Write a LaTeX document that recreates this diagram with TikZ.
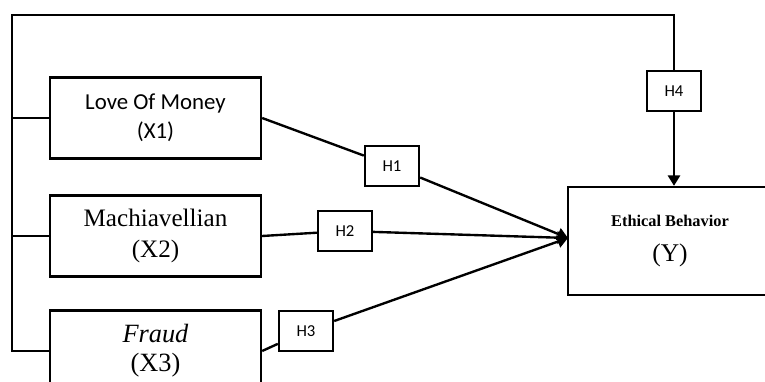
\documentclass[tikz,border=0pt]{standalone}
\usepackage{fontspec}
\setmainfont{Liberation Serif}
\newfontfamily\carlito{Carlito}
\usetikzlibrary{arrows.meta}
\usetikzlibrary{positioning}

\begin{document}
\begin{tikzpicture}
	[x=0.02cm,y=-0.02cm,line width=1.35pt,
	varbox/.style={draw,rectangle,minimum width=4.22cm,minimum height=1.62cm,inner sep=0pt,align=center},
	hbox/.style={draw,rectangle,minimum width=1.08cm,minimum height=0.79cm,inner sep=0pt,font=\carlito\fontsize{9.5}{11}\selectfont},
	arr/.style={-{Triangle[length=6pt,width=7pt]}}]
	\useasboundingbox (0,0) rectangle (765,382);
	\clip (0,0) rectangle (765,382);
	\node[varbox,font=\carlito\fontsize{13}{16.4}\selectfont] (x1) at (155.5,118) {Love Of Money\\(X1)};
	\node[varbox,font=\fontsize{14.3}{17.6}\selectfont] (x2) at (155.5,236) {Machiavellian\\(X2)};
	\node[varbox,font=\fontsize{15}{16.5}\selectfont] (x3) at (155.5,351) {\textit{Fraud}\\(X3)};
	\node[varbox,minimum width=4.08cm,minimum height=2.16cm,font=\fontsize{14.5}{19.5}\selectfont] (y) at (670,241) {\textbf{\fontsize{9.3}{11}\selectfont Ethical Behavior}\\(Y)};
	\node[hbox] (h1) at (392,166) {H1};
	\node[hbox] (h2) at (345,231) {H2};
	\node[hbox] (h3) at (306,331) {H3};
	\node[hbox] (h4) at (674,91) {H4};
	\coordinate (tip) at (568,238);
	\coordinate (corner) at (12,15);
	
	\draw (x3.west) -| (corner) -| (h4.north);
	\foreach \v in {x1,x2}
	\draw (\v.west) -- (\v.west -| corner);
	\foreach \from/\via in {x1/h1,x2/h2,x3/h3}
	\draw[arr] (\from.east) -- (\via) -- (tip);
	\draw[arr] (h4) -- (h4 |- y.north);
\end{tikzpicture}
\end{document}
